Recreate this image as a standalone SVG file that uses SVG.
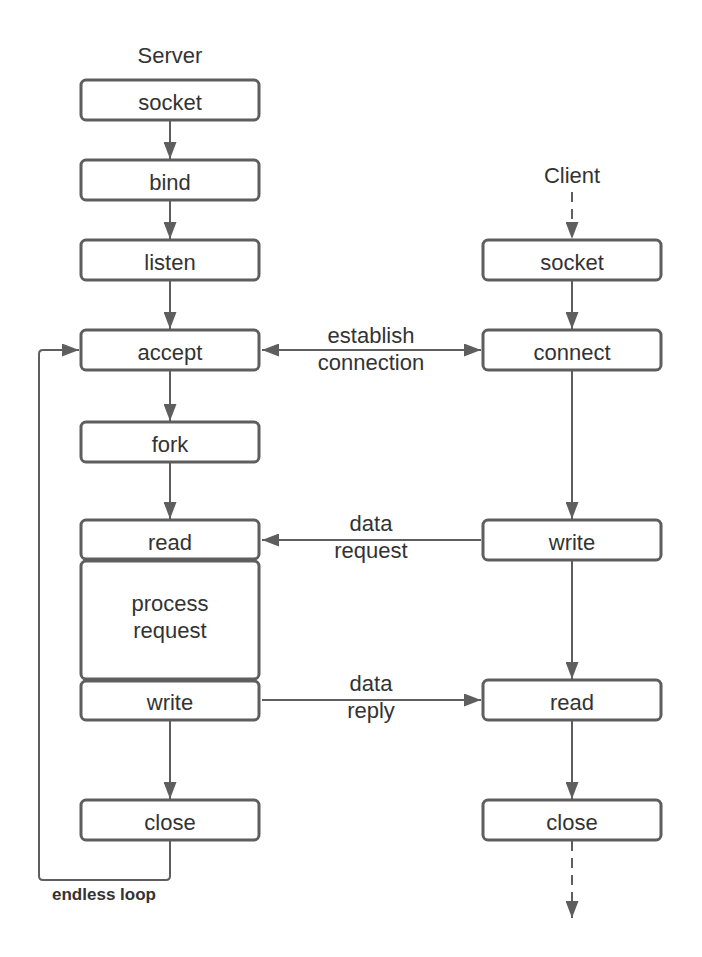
<svg xmlns="http://www.w3.org/2000/svg" width="702" height="957" viewBox="0 0 702 957">
<defs>
<style>
.box{fill:#fff;stroke:#5e5e5e;stroke-width:3}
.ln{fill:none;stroke:#5e5e5e;stroke-width:2}
.dash{stroke-dasharray:10 7}
text{font-family:"Liberation Sans",Arial,sans-serif;font-size:22px;fill:#333;text-anchor:middle}
.bold{font-weight:bold;font-size:17px}
</style>
<marker id="ah" markerUnits="userSpaceOnUse" markerWidth="17" markerHeight="13" viewBox="0 0 17 13" refX="17" refY="6.5" orient="auto-start-reverse">
<path d="M0,0 L17,6.5 L0,13 z" fill="#5e5e5e"/>
</marker>
</defs>
<rect width="702" height="957" fill="#fff"/>
<text x="170" y="63">Server</text>
<text x="572" y="183">Client</text>

<g id="connectors">
<line class="ln" x1="170" y1="121" x2="170" y2="159" marker-end="url(#ah)"/>
<line class="ln" x1="170" y1="201" x2="170" y2="239" marker-end="url(#ah)"/>
<line class="ln" x1="170" y1="281" x2="170" y2="329" marker-end="url(#ah)"/>
<line class="ln" x1="170" y1="371" x2="170" y2="421" marker-end="url(#ah)"/>
<line class="ln" x1="170" y1="463" x2="170" y2="519" marker-end="url(#ah)"/>
<line class="ln" x1="170" y1="721" x2="170" y2="799" marker-end="url(#ah)"/>
<path class="ln" d="M170,841 V876 Q170,880 166,880 H43 Q39,880 39,876 V354 Q39,350 43,350 H79" marker-end="url(#ah)"/>
<line class="ln dash" x1="572" y1="192" x2="572" y2="239" marker-end="url(#ah)"/>
<line class="ln" x1="572" y1="281" x2="572" y2="329" marker-end="url(#ah)"/>
<line class="ln" x1="572" y1="371" x2="572" y2="519" marker-end="url(#ah)"/>
<line class="ln" x1="572" y1="561" x2="572" y2="679" marker-end="url(#ah)"/>
<line class="ln" x1="572" y1="721" x2="572" y2="799" marker-end="url(#ah)"/>
<line class="ln dash" x1="572" y1="841" x2="572" y2="918" marker-end="url(#ah)"/>
<line class="ln" x1="262" y1="350" x2="481" y2="350" marker-start="url(#ah)" marker-end="url(#ah)"/>
<line class="ln" x1="481" y1="540" x2="262" y2="540" marker-end="url(#ah)"/>
<line class="ln" x1="262" y1="700" x2="481" y2="700" marker-end="url(#ah)"/>
<text x="371" y="343">establish</text>
<text x="371" y="370">connection</text>
<text x="371" y="531">data</text>
<text x="371" y="558">request</text>
<text x="371" y="691">data</text>
<text x="371" y="718">reply</text>
<text class="bold" x="104" y="900">endless loop</text>
</g>

<g id="s-socket"><rect class="box" x="81" y="80" width="178" height="40" rx="5"/><text x="170" y="110">socket</text></g>
<g id="s-bind"><rect class="box" x="81" y="160" width="178" height="40" rx="5"/><text x="170" y="190">bind</text></g>
<g id="s-listen"><rect class="box" x="81" y="240" width="178" height="40" rx="5"/><text x="170" y="270">listen</text></g>
<g id="s-accept"><rect class="box" x="81" y="330" width="178" height="40" rx="5"/><text x="170" y="360">accept</text></g>
<g id="s-fork"><rect class="box" x="81" y="422" width="178" height="40" rx="5"/><text x="170" y="452">fork</text></g>
<g id="s-read"><rect class="box" x="81" y="520" width="178" height="39" rx="5"/><text x="170" y="550">read</text></g>
<g id="s-process"><rect class="box" x="81" y="561" width="178" height="118" rx="5"/><text x="170" y="611">process</text><text x="170" y="638">request</text></g>
<g id="s-write"><rect class="box" x="81" y="681" width="178" height="39" rx="5"/><text x="170" y="710">write</text></g>
<g id="s-close"><rect class="box" x="81" y="800" width="178" height="40" rx="5"/><text x="170" y="830">close</text></g>

<g id="c-socket"><rect class="box" x="483" y="240" width="178" height="40" rx="5"/><text x="572" y="270">socket</text></g>
<g id="c-connect"><rect class="box" x="483" y="330" width="178" height="40" rx="5"/><text x="572" y="360">connect</text></g>
<g id="c-write"><rect class="box" x="483" y="520" width="178" height="40" rx="5"/><text x="572" y="550">write</text></g>
<g id="c-read"><rect class="box" x="483" y="680" width="178" height="40" rx="5"/><text x="572" y="710">read</text></g>
<g id="c-close"><rect class="box" x="483" y="800" width="178" height="40" rx="5"/><text x="572" y="830">close</text></g>
</svg>
